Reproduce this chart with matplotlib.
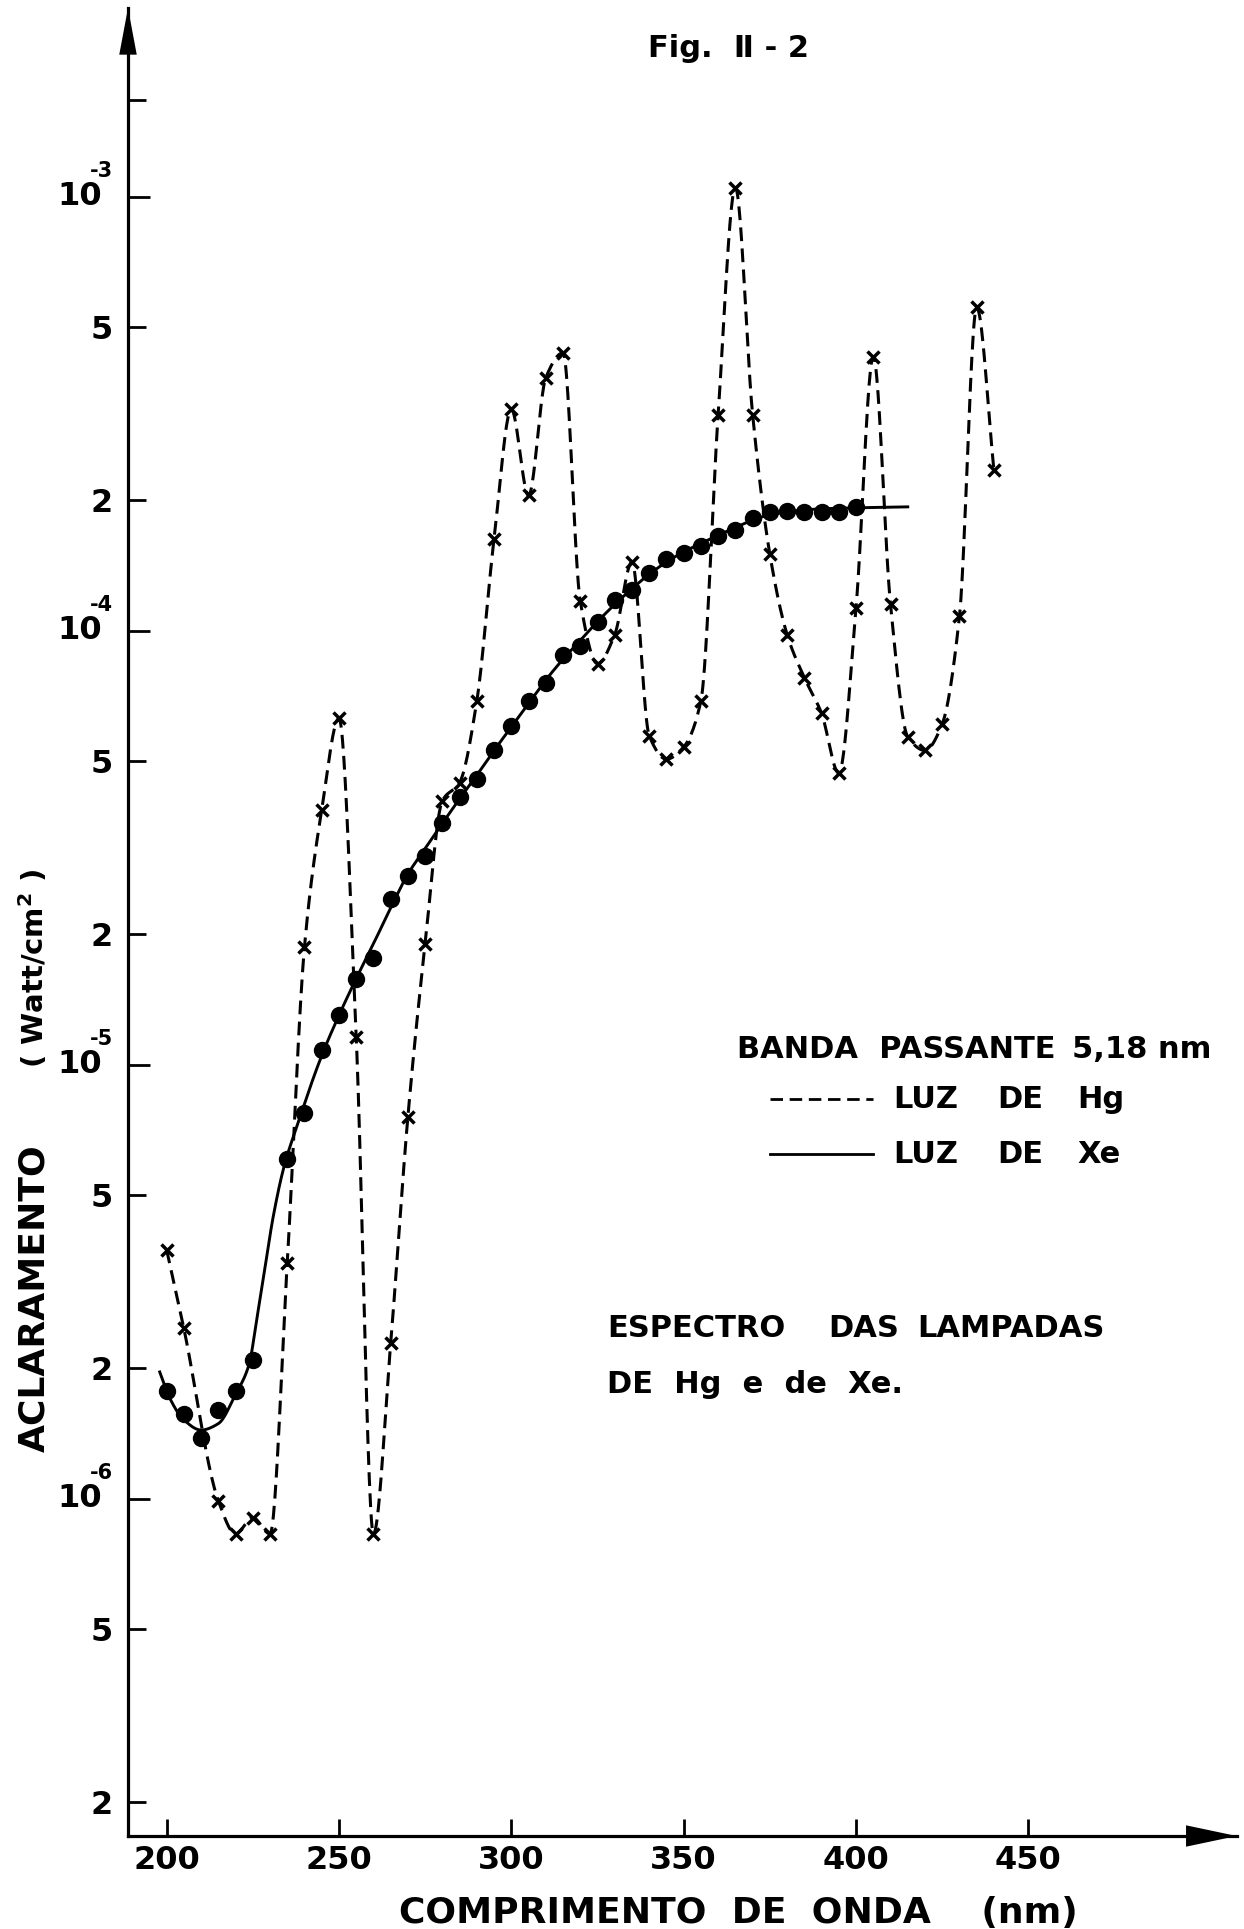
import numpy as np
import matplotlib
matplotlib.use('Agg')
import matplotlib.pyplot as plt
import matplotlib.transforms as mtransforms
from matplotlib.lines import Line2D
from matplotlib.ticker import FixedLocator, FixedFormatter, NullFormatter

# Lampada de Hg (pontos x)
hg_nm = [200, 205, 215, 220, 225, 230, 235, 240, 245, 250, 255, 260, 265, 270,
         275, 280, 285, 290, 295, 300, 305, 310, 315, 320, 325, 330, 335, 340,
         345, 350, 355, 360, 365, 370, 375, 380, 385, 390, 395, 400, 405, 410,
         415, 420, 425, 430, 435, 440]
hg_val = [3.75e-6, 2.47e-6, 9.9e-7, 8.3e-7, 9.05e-7, 8.3e-7, 3.5e-6, 1.87e-5,
          3.87e-5, 6.28e-5, 1.16e-5, 8.3e-7, 2.28e-6, 7.6e-6, 1.9e-5, 4.06e-5,
          4.47e-5, 6.9e-5, 1.63e-4, 3.24e-4, 2.05e-4, 3.83e-4, 4.37e-4, 1.17e-4,
          8.4e-5, 9.8e-5, 1.44e-4, 5.73e-5, 5.06e-5, 5.4e-5, 6.9e-5, 3.15e-4,
          1.05e-3, 3.15e-4, 1.5e-4, 9.8e-5, 7.8e-5, 6.45e-5, 4.7e-5, 1.13e-4,
          4.28e-4, 1.15e-4, 5.7e-5, 5.3e-5, 6.1e-5, 1.08e-4, 5.56e-4, 2.35e-4]

# Lampada de Xe (pontos cheios)
xe_nm = [200, 205, 210, 215, 220, 225, 235, 240, 245, 250, 255, 260, 265, 270,
         275, 280, 285, 290, 295, 300, 305, 310, 315, 320, 325, 330, 335, 340,
         345, 350, 355, 360, 365, 370, 375, 380, 385, 390, 395, 400]
xe_val = [1.77e-6, 1.57e-6, 1.38e-6, 1.6e-6, 1.77e-6, 2.09e-6, 6.07e-6, 7.74e-6,
          1.08e-5, 1.30e-5, 1.58e-5, 1.76e-5, 2.41e-5, 2.72e-5, 3.02e-5, 3.6e-5,
          4.15e-5, 4.56e-5, 5.3e-5, 6.05e-5, 6.9e-5, 7.57e-5, 8.79e-5, 9.22e-5,
          1.05e-4, 1.18e-4, 1.24e-4, 1.36e-4, 1.46e-4, 1.51e-4, 1.57e-4, 1.65e-4,
          1.71e-4, 1.82e-4, 1.88e-4, 1.89e-4, 1.88e-4, 1.88e-4, 1.88e-4, 1.93e-4]

# curva ajustada (linha cheia)
fit_nm = [198, 201, 205, 210, 215, 220, 224, 226, 228, 231, 234, 238, 245, 250,
          255, 260, 265, 270, 275, 280, 285, 290, 295, 300, 305, 310, 315, 320,
          325, 330, 335, 340, 345, 350, 355, 360, 365, 370, 375, 380, 390, 400, 415]
fit_val = [1.96e-6, 1.7e-6, 1.52e-6, 1.44e-6, 1.49e-6, 1.74e-6, 2.05e-6, 2.55e-6,
           3.2e-6, 4.5e-6, 5.8e-6, 7.3e-6, 1.05e-5, 1.3e-5, 1.58e-5, 1.9e-5,
           2.3e-5, 2.75e-5, 3.15e-5, 3.6e-5, 4.1e-5, 4.65e-5, 5.3e-5, 6.0e-5,
           6.8e-5, 7.7e-5, 8.6e-5, 9.5e-5, 1.05e-4, 1.15e-4, 1.25e-4, 1.35e-4,
           1.44e-4, 1.52e-4, 1.59e-4, 1.66e-4, 1.73e-4, 1.8e-4, 1.85e-4, 1.88e-4,
           1.91e-4, 1.92e-4, 1.93e-4]

x_ticks = [200, 250, 300, 350, 400, 450]
y_major = [1e-6, 1e-5, 1e-4, 1e-3]
y_major_exp = ['-6', '-5', '-4', '-3']
y_minor = [2e-7, 5e-7, 2e-6, 5e-6, 2e-5, 5e-5, 2e-4, 5e-4, 1.67e-3]
y_minor_lab = ['2', '5', '2', '5', '2', '5', '2', '5', '']


def smooth(x, y, n=25):
    # curva suave monotona (pchip) em escala log, so para desenhar
    x = np.asarray(x, float)
    ly = np.log10(y)
    h = np.diff(x)
    d = np.diff(ly) / h
    m = np.zeros_like(ly)
    for i in range(1, len(x) - 1):
        if d[i - 1] * d[i] > 0:
            w1 = 2 * h[i] + h[i - 1]
            w2 = h[i] + 2 * h[i - 1]
            m[i] = (w1 + w2) / (w1 / d[i - 1] + w2 / d[i])
    m[0] = d[0]
    m[-1] = d[-1]
    xs, ys = [], []
    t = np.linspace(0, 1, n, endpoint=False)
    h00 = 2 * t**3 - 3 * t**2 + 1
    h10 = t**3 - 2 * t**2 + t
    h01 = -2 * t**3 + 3 * t**2
    h11 = t**3 - t**2
    for i in range(len(x) - 1):
        xs.append(x[i] + t * h[i])
        ys.append(h00 * ly[i] + h10 * h[i] * m[i] + h01 * ly[i + 1] + h11 * h[i] * m[i + 1])
    xs.append([x[-1]])
    ys.append([ly[-1]])
    return np.concatenate(xs), 10 ** np.concatenate(ys)


W, H = 1244, 1929
def fx(px):
    return px / W
def fy(py):
    return 1 - py / H

plt.rcParams['font.family'] = 'DejaVu Sans'
plt.rcParams['font.weight'] = 'bold'
plt.rcParams['mathtext.default'] = 'bf'

fig = plt.figure(figsize=(12.44, 19.29), dpi=100)
ax = fig.add_axes([fx(128), fy(1836), fx(1236.6) - fx(128), fy(8) - fy(1836)])
ax.set_yscale('log')
ax.set_xlim(188.8, 510.4)
ax.set_ylim(10 ** -6.777, 10 ** -2.565)

dash = (0, (4.5, 2.4))
sx, sy = smooth(hg_nm, hg_val)
ax.plot(sx, sy, color='k', lw=2.2, linestyle=dash)
ax.plot(hg_nm, hg_val, ls='none', marker='x', ms=9, mew=2.5, color='k')

fx_, fy_ = smooth(fit_nm, fit_val)
ax.plot(fx_, fy_, color='k', lw=2.1)
ax.plot(xe_nm, xe_val, ls='none', marker='o', ms=11.5, color='k', zorder=4)

for s in ['top', 'right']:
    ax.spines[s].set_visible(False)
for s in ['left', 'bottom']:
    ax.spines[s].set_linewidth(2.3)

ax.annotate('', xy=(0, 1), xycoords='axes fraction', xytext=(0, 0.96),
            arrowprops=dict(arrowstyle='-|>,head_length=2.4,head_width=0.45',
                            lw=0, color='k', mutation_scale=14, shrinkA=0, shrinkB=0))
ax.annotate('', xy=(1, 0), xycoords='axes fraction', xytext=(0.95, 0),
            arrowprops=dict(arrowstyle='-|>,head_length=2.6,head_width=0.55',
                            lw=0, color='k', mutation_scale=14, shrinkA=0, shrinkB=0))

ax.xaxis.set_major_locator(FixedLocator(x_ticks))
ax.xaxis.set_major_formatter(FixedFormatter([str(v) for v in x_ticks]))
ax.xaxis.set_minor_locator(FixedLocator([]))
ax.tick_params(axis='x', which='major', direction='in', length=12.5, width=2,
               pad=6.5, labelsize=23)

ax.yaxis.set_major_locator(FixedLocator(y_major))
ax.yaxis.set_major_formatter(NullFormatter())
ax.yaxis.set_minor_locator(FixedLocator(y_minor))
ax.yaxis.set_minor_formatter(FixedFormatter(y_minor_lab))
ax.tick_params(axis='y', which='major', direction='in', length=16, width=2)
ax.tick_params(axis='y', which='minor', direction='in', length=13, width=2,
               pad=11, labelsize=23)

# rotulos 10^-n como no original (expoente pequeno em cima)
trans = mtransforms.blended_transform_factory(fig.transFigure, ax.transData)
trans_up = mtransforms.offset_copy(trans, fig=fig, y=26, units='dots')
for v, e in zip(y_major, y_major_exp):
    ax.text(fx(102), v, '10', transform=trans, ha='right', va='center',
            fontsize=23, clip_on=False)
    ax.text(fx(90), v, e, transform=trans_up, ha='left', va='center',
            fontsize=15, clip_on=False)

fs = 22
fig.text(fx(728), fy(57), 'Fig.  Ⅱ - 2', ha='center', va='baseline', fontsize=22)

fig.text(fx(738), fy(1923), 'COMPRIMENTO  DE  ONDA    (nm)', ha='center',
         va='baseline', fontsize=26)
fig.text(fx(34), fy(1298), 'ACLARAMENTO', rotation=90, ha='center', va='center',
         fontsize=26)
fig.text(fx(34), fy(968), '( Watt/cm$^{2}$ )', rotation=90, ha='center',
         va='center', fontsize=21)

fig.text(fx(737), fy(1058), 'BANDA  PASSANTE', ha='left', va='baseline', fontsize=fs)
fig.text(fx(1072), fy(1058), '5,18 nm', ha='left', va='baseline', fontsize=fs)

fig.add_artist(Line2D([fx(770), fx(873)], [fy(1099), fy(1099)], color='k',
                      lw=2.0, linestyle=dash))
fig.add_artist(Line2D([fx(770), fx(873)], [fy(1154), fy(1154)], color='k', lw=2.0))
for yb, last in [(1108, 'Hg'), (1163, 'Xe')]:
    fig.text(fx(893), fy(yb), 'LUZ', ha='left', va='baseline', fontsize=fs)
    fig.text(fx(997), fy(yb), 'DE', ha='left', va='baseline', fontsize=fs)
    fig.text(fx(1077), fy(yb), last, ha='left', va='baseline', fontsize=fs)

fig.text(fx(607), fy(1337), 'ESPECTRO', ha='left', va='baseline', fontsize=fs)
fig.text(fx(828), fy(1337), 'DAS', ha='left', va='baseline', fontsize=fs)
fig.text(fx(917), fy(1337), 'LAMPADAS', ha='left', va='baseline', fontsize=fs)
fig.text(fx(607), fy(1393), 'DE  Hg  e  de  Xe.', ha='left', va='baseline',
         fontsize=fs)

fig.savefig('out.png', dpi=100)
